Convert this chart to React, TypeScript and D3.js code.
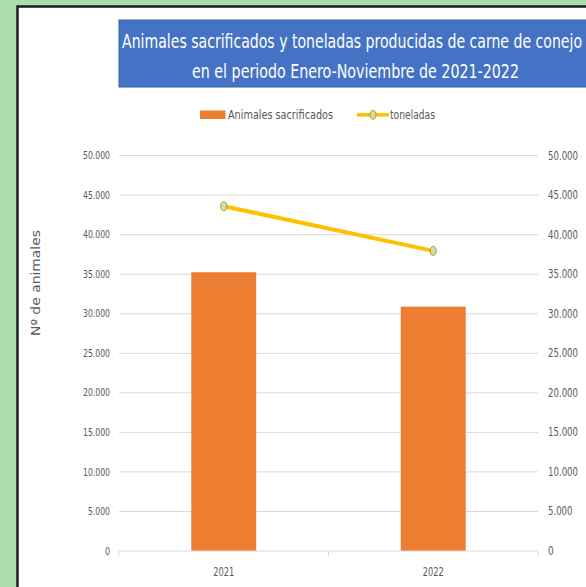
import React from "react";
import * as d3 from "d3";

const years = ["2021", "2022"];
const animalesSacrificados = [35250, 30900];
const toneladas = [43600, 37950];
const yTicks = [0, 5000, 10000, 15000, 20000, 25000, 30000, 35000, 40000, 45000, 50000];

const titleLines = [
  "Animales sacrificados y toneladas producidas de carne de conejo",
  "en el periodo Enero-Noviembre de 2021-2022",
];

const W = 586;
const H = 587;
const plot = { left: 119, right: 538, top: 155.6, bottom: 551 };

const narrow = "'Liberation Sans Narrow', 'DejaVu Sans Condensed', 'Roboto', sans-serif";
const gray = "#595959";

const fmt = (v: number) => (v === 0 ? "0" : d3.format(",")(v).replace(/,/g, "."));

// squeeze tick labels to the condensed width seen in the chart
const labelWidth = (s: string, digit: number, dot: number) =>
  s.replace(/\./g, "").length * digit + (s.includes(".") ? dot : 0);

export default function App() {
  const x = d3
    .scaleBand<string>()
    .domain(years)
    .range([plot.left, plot.right])
    .paddingInner(0.69)
    .paddingOuter(0.345);

  const xPoint = d3
    .scalePoint<string>()
    .domain(years)
    .range([plot.left, plot.right])
    .padding(0.5);

  const yLeft = d3.scaleLinear().domain([0, 50000]).range([plot.bottom, plot.top]);
  const yRight = d3.scaleLinear().domain([0, 50000]).range([plot.bottom, plot.top]);

  const line = d3
    .line<number>()
    .x((_, i) => xPoint(years[i]) as number)
    .y((d) => yRight(d));

  const step = x.step();
  const catTicks = d3.range(years.length + 1).map((i) => plot.left + i * step);

  return (
    <svg
      width={W}
      height={H}
      style={{ position: "fixed", left: 0, top: 0 }}
      fontFamily={narrow}
    >
      <rect x={0} y={0} width={W} height={H} fill="#aadfac" />
      <rect x={17.5} y={6.5} width={W + 20} height={H + 20} fill="#ffffff" stroke="#1e1e1e" strokeWidth={2.5} />

      {/* title */}
      <rect x={119} y={20} width={W} height={67} fill="#4472c4" stroke="#3a62a8" strokeWidth={1} />
      <text x={352} y={48} textAnchor="middle" fontSize={19.5} fill="#ffffff" textLength={460} lengthAdjust="spacingAndGlyphs">
        {titleLines[0]}
      </text>
      <text x={355.5} y={78} textAnchor="middle" fontSize={19.5} fill="#ffffff" textLength={327} lengthAdjust="spacingAndGlyphs">
        {titleLines[1]}
      </text>

      {/* legend */}
      <g fontSize={12} fill={gray}>
        <rect x={200} y={110.5} width={25.5} height={8.5} fill="#ed7d31" />
        <text x={228} y={119} textLength={105} lengthAdjust="spacingAndGlyphs">Animales sacrificados</text>
        <line x1={357} x2={389} y1={114.8} y2={114.8} stroke="#ffc000" strokeWidth={3.5} />
        <ellipse cx={373} cy={114.8} rx={3} ry={4.3} fill="#c5e0b4" stroke="#bf9000" strokeWidth={0.9} />
        <text x={390} y={119} textLength={45} lengthAdjust="spacingAndGlyphs">toneladas</text>
      </g>

      {/* gridlines */}
      {yTicks.filter((t) => t > 0).map((t) => (
        <line key={t} x1={plot.left} x2={plot.right} y1={yLeft(t)} y2={yLeft(t)} stroke="#d9d9d9" strokeWidth={1} />
      ))}

      {/* bars */}
      {animalesSacrificados.map((v, i) => (
        <rect
          key={years[i]}
          x={x(years[i])}
          y={yLeft(v)}
          width={x.bandwidth()}
          height={yLeft(0) - yLeft(v)}
          fill="#ed7d31"
        />
      ))}

      {/* x axis */}
      <line x1={plot.left} x2={plot.right} y1={plot.bottom} y2={plot.bottom} stroke="#d9d9d9" strokeWidth={1} />
      {catTicks.map((t, i) => (
        <line key={i} x1={t} x2={t} y1={plot.bottom} y2={plot.bottom + 5} stroke="#d9d9d9" strokeWidth={1} />
      ))}
      {years.map((yr) => (
        <text key={yr} x={xPoint(yr)} y={576} textAnchor="middle" fontSize={11.5} fill={gray} textLength={21} lengthAdjust="spacingAndGlyphs">
          {yr}
        </text>
      ))}

      {/* line series */}
      <path d={line(toneladas) || ""} fill="none" stroke="#ffc000" strokeWidth={4} />
      {toneladas.map((v, i) => (
        <ellipse
          key={years[i]}
          cx={xPoint(years[i])}
          cy={yRight(v)}
          rx={3}
          ry={4.5}
          fill="#c5e0b4"
          stroke="#bf9000"
          strokeWidth={0.9}
        />
      ))}

      {/* left axis labels */}
      {yTicks.map((t) => (
        <text
          key={t}
          x={110}
          y={yLeft(t) + 3.6}
          textAnchor="end"
          fontSize={10.5}
          fill={gray}
          textLength={labelWidth(fmt(t), 5, 2)}
          lengthAdjust="spacingAndGlyphs"
        >
          {fmt(t)}
        </text>
      ))}

      {/* right axis labels */}
      {yTicks.map((t) => (
        <text
          key={t}
          x={548}
          y={yRight(t) + 3.9}
          textAnchor="start"
          fontSize={11.5}
          fill={gray}
          textLength={labelWidth(fmt(t), 5.6, 2)}
          lengthAdjust="spacingAndGlyphs"
        >
          {fmt(t)}
        </text>
      ))}

      {/* y axis title */}
      <text
        transform={`translate(39.5, 283) rotate(-90)`}
        textAnchor="middle"
        fontFamily="'DejaVu Sans', Verdana, sans-serif"
        fontSize={12}
        fill={gray}
        textLength={106}
        lengthAdjust="spacingAndGlyphs"
      >
        Nº de animales
      </text>
    </svg>
  );
}
